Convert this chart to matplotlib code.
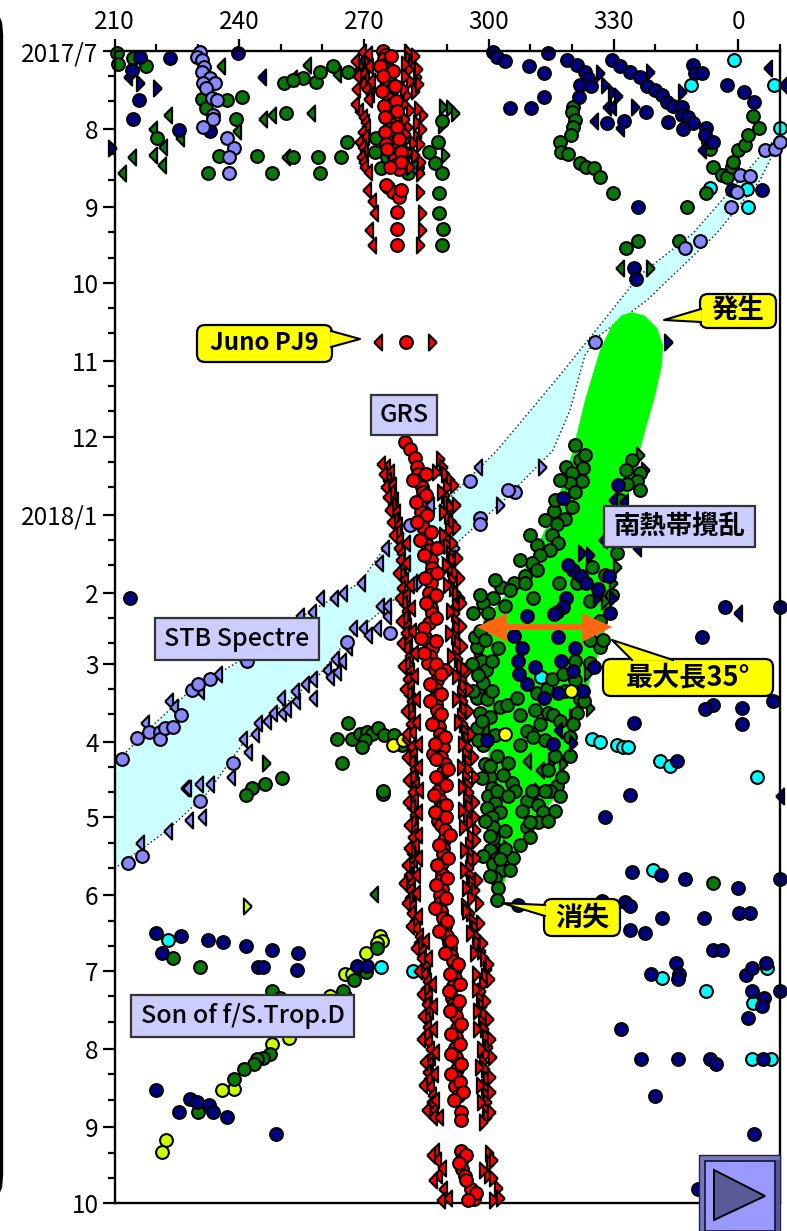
import matplotlib
matplotlib.use("Agg")
import matplotlib.pyplot as plt
from matplotlib.patches import FancyBboxPatch, Polygon, Rectangle

plt.rcParams["font.family"] = ["Noto Sans CJK JP", "DejaVu Sans"]

# ==========================================
# Data: (longitude, days since 2017/7/1)
# longitudes past 360 wrap round to 0-10
# ==========================================

month_days = [0, 31, 62, 92, 123, 153, 184, 215, 243, 274, 304, 335, 365, 396, 427, 457]
month_labels = ["2017/7", "8", "9", "10", "11", "12", "2018/1", "2", "3", "4", "5", "6", "7", "8", "9", "10"]
lon_ticks = [210, 240, 270, 300, 330, 360]
lon_labels = ["210", "240", "270", "300", "330", "0"]

spectre_upper = [(370, 32.6), (359.2, 53.2), (349.1, 72.3), (336.3, 88.9), (326.7, 108.8), (317.1, 128.6),
                 (302, 158.4), (290.7, 177), (274.5, 198), (269, 211), (254.6, 224.7), (240.2, 241.8),
                 (228.2, 253.7), (219.7, 266.8), (210, 282.7)]
spectre_lower = [(210, 324.3), (222.6, 309.3), (232.2, 294.6), (240.9, 274.7), (248.1, 262.8), (258.7, 248.5),
                 (265.9, 233.8), (277, 218), (293.1, 194), (304.4, 177), (315.4, 158.4), (319.5, 142.5),
                 (323.1, 120.7), (326.7, 112.7), (338, 98.9), (354.8, 72.3), (365.2, 51.2), (370, 35.3)]

storm_outline = [(334.5, 103.6), (337.5, 105), (340.5, 110), (341.9, 116.7), (341.6, 124.7), (340, 136.6),
                 (337.6, 150.5), (335.1, 166.3), (332.7, 182.2), (330.8, 202), (329, 222), (327.4, 233.8),
                 (324.3, 249.7), (321.9, 263.6), (318.3, 285.4), (315.4, 297.3), (307.5, 315), (303.9, 329),
                 (302.7, 337), (301.5, 329), (300.3, 297), (299.6, 265.6), (298.3, 237.8), (298.6, 226),
                 (303.9, 216), (310, 202), (315.8, 182), (320.2, 158.4), (323.1, 138.6), (326.7, 118.7),
                 (329.6, 108.8), (332, 104.8)]

grs_center = [(274.6, 0), (275, 1.5), (274.8, 3), (275.3, 5), (275, 7), (275.6, 9), (276, 11), (276.4, 13),
              (275.2, 14), (276.8, 15), (275.5, 17), (276, 19), (276.5, 21), (275.8, 23), (276.5, 25),
              (276.9, 27), (276.3, 29), (276.5, 31), (277, 33), (276.8, 36), (277.5, 38), (277, 41),
              (277.5, 43), (277.8, 45), (278.5, 47), (275.8, 54), (277, 56), (278.5, 58), (278, 63.9),
              (278, 70.6), (278, 77), (280, 115.5),
              (279.9, 155), (281, 158), (282.2, 161.6), (282.8, 165), (283, 168), (283.4, 170), (284, 173),
              (284.2, 175), (283.6, 178), (283.4, 180), (283.8, 183), (283.9, 186), (284.2, 189), (284.6, 193),
              (285.2, 196), (285.8, 198), (286, 202), (286.3, 205), (285.8, 208), (286, 211), (285.6, 215),
              (285.8, 218), (286.2, 221), (286.3, 223), (285.6, 227), (284.6, 232.6), (285.6, 235), (286.3, 237),
              (285.8, 240), (285.4, 242.6), (289.5, 245.7), (287, 245), (287.5, 249.7), (287.2, 253), (287, 256.5),
              (287.2, 259), (287.5, 261.6), (287.8, 265), (288, 268), (288.2, 270.8), (288.6, 273.5), (289, 276.3),
              (286.6, 278.7), (288.6, 280), (289.5, 282.7), (289, 286), (288.4, 290), (287.8, 293.4), (288.2, 297),
              (288.7, 300), (288.2, 303), (287.8, 305.3), (288.6, 307), (289.5, 309), (289.2, 313), (289, 316),
              (289, 318.4), (288.8, 322), (288.7, 326.3), (288.6, 329), (288.7, 332.3), (288.2, 335), (288.2, 338),
              (288.6, 341), (289, 343.8), (289.4, 347), (289.9, 351), (290.4, 354), (290.7, 356), (291, 358.5),
              (291.4, 360.9), (291.8, 364), (291.9, 367.6), (291.4, 371), (291.1, 375.6), (291.6, 378), (291.9, 379.5),
              (292, 383), (292.3, 387.5), (292, 391), (291.9, 395.4), (292, 399), (292.3, 403.8), (292, 407),
              (291.9, 410.5), (292.6, 414.5), (293.3, 421), (293.3, 424), (293.3, 436.3), (293.6, 439.5),
              (293.5, 443.4), (294.3, 446.2), (295.7, 451.4), (296.4, 455.4)]

# second pass of red spots: the tracks wander several degrees across
grs_center_b = [(276.5, 2), (273.8, 6), (277, 8), (274.5, 10), (277.5, 14), (274.4, 16), (277.6, 20), (274.8, 22), (278, 24),
                (275, 26), (278, 30), (275, 32), (278.4, 35), (275.2, 37), (279, 40), (275.4, 39), (279, 44), (276.3, 46),
                (275.2, 53), (279, 55),
                (284.8, 168), (281.8, 170), (285, 176), (282.6, 179), (285.2, 184), (282.8, 187), (286, 191), (283.4, 194),
                (287.5, 197), (284.4, 200), (287.6, 207), (284.6, 209), (287.4, 216), (284.8, 219), (287.4, 225), (284.4, 229),
                (283.6, 233), (287.2, 234), (284.5, 239), (287.4, 243), (288.6, 247), (285.8, 251), (288.6, 255), (285.8, 258),
                (288.6, 263), (286.4, 267), (289.4, 272), (287, 275), (287.2, 281), (290.3, 285), (287.4, 288), (289.8, 291),
                (286.8, 295), (289.6, 299), (287, 302), (289.6, 304), (290.6, 311), (288, 315), (290.2, 320), (287.6, 323),
                (290, 328), (287.4, 331), (289.8, 336), (287, 340), (290, 345), (288, 349), (291, 353), (289.4, 358),
                (292.6, 362), (290.6, 366), (293, 370), (290.4, 373), (292.8, 377), (290.6, 381), (293.2, 386), (291, 390),
                (293, 394), (291, 398), (293.2, 402), (291, 406), (293, 409), (293.8, 413), (291.6, 416),
                (294.5, 438), (292.8, 441), (294.6, 448), (296.8, 453), (295, 456)]

grs_left = [(269.5, 0.5), (270, 3), (269.2, 5), (268.8, 7), (269.8, 9), (270.2, 11), (269.5, 13), (270.4, 15),
            (271.5, 17), (271, 19), (268.8, 24), (269.8, 26), (270.3, 28), (270.5, 30), (269.5, 32), (270.3, 34),
            (268.8, 36), (269.5, 38), (270, 40), (269.3, 42), (269.7, 44), (270, 46), (271, 48), (270.7, 55),
            (271.8, 59.5), (272.5, 64.3), (271.3, 71), (271.8, 77), (273.3, 115.5),
            (275.2, 165), (276.2, 167), (275.6, 170), (276.8, 172), (276.4, 175), (277.2, 178), (276.8, 180),
            (277.6, 183), (277.2, 186), (278.2, 188), (277.8, 191), (278.5, 194), (278.2, 197), (279, 199),
            (278.6, 202), (279.2, 205), (279, 208), (279.6, 210), (279, 213), (280, 216), (279.4, 219), (280, 222),
            (279.6, 225), (280.4, 228), (279.8, 231), (280.6, 234), (280, 237), (280.8, 240), (280.2, 243), (281, 246),
            (280.4, 249), (281, 252), (280.6, 255), (281.2, 258), (280.8, 261), (281.4, 264), (281, 267), (281.6, 270),
            (280.2, 273), (281.4, 276), (281.8, 279), (281.2, 282), (282, 285), (281.6, 288), (282.2, 291), (281.6, 294),
            (282, 297), (281.4, 300), (282, 303), (281.5, 306), (282, 309), (281.6, 312), (282.2, 315), (281.4, 318),
            (281.8, 321), (281, 324), (280.6, 327), (281.4, 330), (281, 333), (280.8, 336), (281.6, 339), (281.2, 342),
            (282, 345), (282.4, 348), (283.2, 351), (283, 354), (284, 357), (283.8, 360), (284.8, 363), (284.4, 366),
            (285.2, 369), (284.6, 372), (285.4, 375), (285, 378), (285.6, 381), (285, 384), (285.2, 387), (284.8, 390),
            (285.4, 393), (285.8, 396), (286, 399), (285.6, 402), (285.2, 405), (285.4, 408), (285.8, 411), (286.4, 414),
            (286.2, 417), (286.8, 420), (286.6, 423), (287.1, 436.4), (287.6, 440), (287.8, 446), (289, 451.4), (290.2, 455)]

grs_left_b = [(271, 1), (267.8, 4), (271.2, 6), (268.2, 10), (271.6, 12), (268, 15), (267.8, 21),
              (274, 164), (274.6, 168), (275, 173), (275.5, 177), (276, 182), (276.5, 187), (277, 192), (280, 195), (280.2, 203),
              (278, 207), (281, 212), (278.4, 217), (281.4, 221), (278.6, 226), (281.6, 230), (279, 235), (282, 239), (279.2, 244),
              (282, 248), (279.6, 253), (282.4, 257), (279.8, 262), (282.6, 266), (280, 271), (283, 275), (280, 280), (283, 284),
              (280.4, 289), (283.2, 293), (280.4, 298), (283, 302), (280.6, 307), (283, 311), (280.6, 316), (283, 320), (280, 323),
              (282.4, 327), (279.4, 330), (282.6, 334), (280, 338), (283, 343), (281, 347), (284.6, 353), (282.2, 356), (285.4, 360),
              (283, 365), (286.4, 370), (283.6, 374), (286.6, 379), (284, 383), (286.6, 388), (283.8, 392), (287, 397), (284.4, 401),
              (286.8, 406), (284.2, 410), (287, 416), (285, 420), (288, 423), (286, 438), (288.8, 443), (286.6, 448), (288.4, 456)]

grs_right = [(280.5, 0.5), (280.8, 3), (281.5, 5.5), (280.8, 7), (282.7, 10.3), (281, 12), (282.2, 16), (280.4, 17.5),
             (281, 23.5), (284.2, 25.4), (282.7, 28.6), (280.6, 30), (282.7, 34), (281.8, 36.6), (282.2, 41.3),
             (283.4, 48.4), (283.4, 56), (283.9, 64.3), (283.9, 71), (283.4, 77), (286.3, 115.5),
             (288.3, 162), (289, 165), (289.5, 168), (290.7, 170), (290, 173), (289.5, 176), (290, 179), (290.7, 181),
             (290.2, 184), (291.1, 187), (290.5, 190), (290, 193), (289.9, 196), (290.6, 199), (291.2, 202), (290.8, 205),
             (291.9, 207), (291.2, 210), (291.4, 213), (292.2, 215), (293, 217), (292, 220), (291.9, 223), (292.2, 226),
             (292.3, 229), (291.8, 232), (292.6, 235), (292.2, 238), (292.6, 241), (293, 244), (294.7, 246), (293.6, 249),
             (293.8, 252), (293.2, 255), (293.8, 258), (294, 261), (293.4, 264), (293.8, 267), (294.2, 270), (294.7, 273),
             (295, 276), (294.6, 279), (295, 282), (295, 285), (294.6, 288), (295, 291), (295.2, 294), (294.7, 297),
             (295.2, 300), (294.7, 303), (295.5, 306), (297, 309), (295.6, 312), (295.2, 315), (295.5, 318), (295.8, 321),
             (295.3, 324), (295.5, 327), (296, 330), (296.7, 333), (295.6, 336), (294.3, 339), (295.5, 342), (296.3, 345),
             (296.7, 348), (297, 351), (297.2, 354), (298, 357), (298.8, 360), (299.5, 364), (299, 367), (298.5, 370),
             (298, 373), (297.9, 376), (298.4, 379), (298.8, 382), (298.4, 385), (298.8, 388), (299.2, 391), (299.8, 395),
             (299.4, 398), (298.6, 401), (299, 404), (299.5, 408), (299, 411), (299.2, 414), (299.5, 417), (299.4, 420),
             (299.5, 423), (300, 437), (300.3, 441), (299.8, 446), (302.2, 451), (302.7, 455)]

grs_right_b = [(282.3, 2), (279.8, 5), (283, 7), (279.8, 10), (283.2, 13), (279.6, 15), (279.5, 21), (283, 23), (279.8, 27), (284, 31),
               (280, 33), (283.4, 37), (280.6, 40), (283.6, 44), (281, 46),
               (287.4, 167), (291.6, 172), (288.4, 175), (292, 180), (288.9, 183), (292.2, 189), (289, 192), (291.4, 195), (292.6, 201),
               (289.6, 204), (293, 209), (290, 212), (293.6, 219), (290.6, 222), (293.6, 228), (290.4, 231), (293.8, 236), (291, 240),
               (294, 245), (292, 248), (295.2, 253), (292.2, 257), (295.2, 262), (292.6, 266), (295.6, 271), (293.6, 275), (296.4, 280),
               (293.4, 284), (296.6, 288), (293.6, 292), (296.6, 298), (293.6, 301), (296.6, 304), (293.8, 308), (296.8, 313), (294, 317),
               (296.8, 320), (294, 325), (297.4, 329), (294.4, 332), (297.6, 338), (294.6, 341), (297.8, 346), (295.4, 350), (298.6, 354),
               (296.4, 358), (300, 362), (297, 366), (300.2, 368), (297, 372), (299.4, 377), (297.2, 381), (300, 384), (297.2, 388),
               (300.6, 392), (298, 396), (300.8, 399), (297.6, 403), (300.4, 407), (297.8, 410), (300.6, 413), (298, 417), (300.6, 421),
               (298.6, 425), (301, 440), (298.6, 444), (301, 447), (301, 456)]

green_circles = [(320.2, 22.2), (320, 24.2), (320.7, 27.4), (320.2, 30.2), (319.8, 33.3), (317.1, 36), (317.4, 40), (319, 40.9),
                 (321.9, 44.5), (323.3, 46), (325.3, 46.4), (326.7, 50), (329.8, 56.4), (335.8, 75.4), (332.9, 78.2),
                 (345.7, 75.4), (347.6, 62), (352.2, 56.4), (353.2, 38.9), (352.7, 36), (353.9, 46), (356, 49.2), (357.3, 50),
                 (358.4, 46), (358.7, 44), (359.9, 39.3), (361.5, 37.3), (362.3, 33.3), (364.9, 30.6), (363.5, 25.8),
                 (210.6, 0.8), (214.4, 2.8), (210.8, 5.2), (217.6, 6), (231, 19), (232, 22.6), (237, 19.5), (240.7, 18.3),
                 (239.2, 27), (220.2, 34.5), (235.1, 41.7), (244.3, 41.7), (252.9, 42), (258.9, 42), (264.5, 42), (265.9, 36),
                 (232.5, 48.4), (247.9, 48.4), (259.4, 48.4), (251.2, 24.6), (250.7, 12.7), (255.3, 10.7), (258.4, 12.3),
                 (259.4, 8.3), (262.5, 6), (266.1, 8.3), (252.9, 11.5), (272.9, 34.5), (272.6, 40), (274, 46.4), (277.2, 38),
                 (275.5, 42), (288, 56.4), (288, 64.3), (289, 70.7), (288.7, 77), (288.7, 48.4), (287, 44.5), (285.6, 40),
                 (287.8, 36), (288.7, 27.8), (279.4, 34.5), (279.4, 42), (280.6, 48.4), (282.7, 46),
                 (266.1, 266.4), (263.5, 273), (267.1, 273), (269, 270.8), (270.7, 270), (271.9, 270.8), (273.3, 268.4),
                 (274.8, 271.2), (277.2, 271.2), (270.2, 273.5), (269.5, 276.3), (279.1, 275.5), (264.7, 282.3), (274.5, 294.6),
                 (274.5, 293.4), (250.3, 288.6), (246.2, 290.6), (243.1, 292.2), (241.6, 295), (353.9, 330),
                 (224.1, 360), (230.6, 363.3), (247.9, 372.8), (249.8, 375.6), (264.9, 372.8), (267.6, 368.4), (270.5, 365.2),
                 (273.1, 356), (247.4, 397.8), (245.7, 399.4), (244.3, 399.8), (243.5, 402), (241.1, 404), (238.7, 407.7),
                 (230.1, 421)]

storm_circles = [(321.9, 162.4), (318.5, 165), (322.6, 165.5), (320, 167.5), (322.4, 170.7), (319.5, 171.5), (320.7, 175),
                 (320, 181), (315.7, 182.6), (318.3, 185.8), (316.4, 187.8), (315.2, 192), (316.6, 195), (311.6, 196),
                 (314.7, 198), (312.3, 200), (310.4, 203), (311.6, 206), (308.7, 208.4), (306, 211), (308.7, 211), (303, 212.8),
                 (301, 217), (298.6, 219), (303.9, 220), (296.2, 223), (299.8, 223), (310.6, 216.8), (316.9, 211), (334.4, 162.4),
                 (336.3, 167.5), (335.6, 170.7), (333.2, 171.9), (330.8, 199.3), (324.8, 204.8), (321.2, 211), (326.7, 236.6),
                 (327.4, 233.8), (297.1, 236.6), (296.7, 232.6), (298.3, 241.8), (296, 243), (299.3, 245.7), (298.6, 250.9),
                 (297.1, 256.5), (299.5, 256.9), (297.9, 262.8), (300.3, 264.4), (297.1, 268.4), (302.2, 237), (302.7, 260.4),
                 (304.4, 259.6), (306.8, 256.5), (311.6, 254.5), (314, 252.9), (315.2, 249), (317.8, 247.3), (321.9, 256.9),
                 (324.3, 242.6), (321.2, 262.8), (314.2, 262.8), (312.3, 266.8), (309.2, 269.6), (320.2, 266.8), (319.5, 272.3),
                 (298.6, 275.5), (307.5, 275.5), (310.6, 272.3), (299, 282.7), (304.6, 282.3), (300.3, 288.2), (305.6, 290.2),
                 (300.8, 292.2), (306.3, 293.4), (309.2, 297.4), (299.8, 295.4), (301.5, 298.5), (311.8, 299.3), (299.5, 300.5),
                 (302.7, 302), (313, 302), (300.8, 304), (311.8, 306), (309.2, 308), (301, 308), (303.9, 309.3), (301, 312.4),
                 (309.9, 312), (307.5, 315), (300.3, 317), (302, 320), (305.8, 320), (301, 322.4), (303.1, 325), (301.5, 328),
                 (302.2, 332), (302, 336.8), (316.4, 291.4), (317.6, 288.2), (314.7, 293.4)]

storm_circles_b = [(297.9, 229.9), (300.3, 227.9), (299.1, 233.8), (297.4, 247.7), (300.8, 241.8), (296.2, 253.7), (300.8, 253.7),
                   (298.4, 265.6), (301.5, 271.5), (297.3, 273.5), (302, 279.5), (300.3, 283.5), (303.4, 287.4), (298.4, 288.6),
                   (302, 293.4), (304.6, 295.4), (307.9, 301.3), (309.9, 306), (299.1, 305.3), (300.3, 311.3), (303.9, 316.4),
                   (298.6, 319.2), (305, 325), (300.3, 327.1), (302.7, 320.4), (307.5, 263.6), (311, 261.6), (315.4, 263.6),
                   (317.1, 265.6), (313.5, 273.5), (315.9, 279.5), (319.5, 279.5), (314.2, 285.4), (313.5, 293.4), (310.4, 293.4),
                   (317.1, 295.4), (315.9, 301.3), (314.2, 305.3), (320.7, 156.4), (323.1, 160.4), (317.1, 170.3), (315.9, 178.3),
                   (313.5, 186.2), (310, 192), (307.5, 202), (301.5, 210), (297.9, 216), (305, 214), (333, 166.3), (336.3, 174.3),
                   (331.5, 178.3), (329.6, 194), (327.9, 208), (329.6, 216), (324.3, 218), (326.7, 226), (324.3, 233.8), (320.7, 241.8),
                   (318.4, 253.7), (320.7, 249.7), (322.9, 257.7)]

green_left = [(235.6, 6), (222.9, 25.4), (214.2, 42), (219.3, 41.3), (219.3, 31), (221.7, 38), (221.4, 45.3), (211.8, 48.4),
              (225.7, 34.5), (239.5, 31.8), (245.7, 27), (247.9, 25.4), (257.2, 24.6), (251.2, 42), (256.3, 5.6), (252.9, 10.7),
              (263.5, 9.1), (331.5, 86.1), (272.4, 334.3), (297.4, 239.8), (297.9, 253.7), (299, 269.6), (299.6, 285.4),
              (301.5, 313.2), (302, 321), (312.3, 285.4), (309.2, 281.5)]
green_right = [(289, 22.2), (290.7, 22.6), (291.9, 24.6), (288.7, 29.4), (289.4, 41.3), (338.7, 86), (246.4, 282.3),
               (330.8, 204.8), (329.9, 211), (327.9, 218), (323.8, 246.9), (324.3, 260.8), (320.2, 264.4), (315.2, 281.5),
               (317.9, 282.7), (311.8, 293.4), (304.4, 316), (336.3, 160.4), (337.5, 166.3), (331.5, 186)]

navy_circles = [(301, 0.4), (302, 2.4), (303.9, 4), (309.7, 6), (314.2, 0.8), (313.3, 8.7), (313.3, 18.3), (305, 22.6), (310.1, 22.6),
                (318.8, 3.6), (321.2, 5.6), (323.1, 8.3), (323.8, 10.7), (321.9, 13.5), (324.6, 13.9), (321.7, 18.3), (329.6, 3.6),
                (331.5, 6), (333.9, 8.3), (336.3, 10.3), (338, 13.9), (339.9, 15.5), (341.6, 17.5), (342.8, 20.2), (344.3, 21.8),
                (346.4, 22.2), (346.4, 25.4), (347.9, 26.2), (349.1, 28.6), (346.7, 31), (343, 28.2), (337.8, 24.2), (328.4, 28.6),
                (332.5, 27.8), (349.1, 5.6), (349.6, 8.7), (351.2, 8.7), (352.2, 30.6), (352, 33.3), (357.3, 13.5), (361.3, 16.3),
                (363.7, 20.2), (353.9, 36), (358.4, 55), (365.6, 55), (335.8, 62), (334.9, 86), (335.4, 90.5),
                (223.3, 2.8), (239.7, 0.8), (215.9, 19.5), (214.4, 27), (225.5, 31.4), (233, 31.8), (214.2, 7.5), (216.1, 2.4),
                (317.8, 177.5), (331, 172.3), (320.2, 206), (319, 204), (322.2, 208.4), (323.4, 211), (326.2, 213.6), (328.9, 208.4),
                (318.5, 216.8), (317.8, 220.7), (316.4, 222.7), (315.7, 223.5), (309.2, 224.3), (306, 232.2), (316.6, 232.6), (308, 237),
                (320.7, 237), (307, 242), (311, 244.5), (317.3, 242), (320.2, 246), (325.2, 244.5), (307.2, 247.3), (309.2, 251),
                (313.2, 256.5), (316.6, 254.5), (322.6, 254), (329.1, 223), (299.5, 273.5), (315.4, 275),
                (356.8, 220.7), (351.2, 232.6), (370, 220.7), (353.9, 259.6), (352, 261.2), (360.9, 260.8), (360.9, 266.8), (334.9, 266.4),
                (368.3, 257.7), (345.2, 281.5), (334, 295), (327.9, 303.7), (334.4, 325.5), (341.4, 327), (347.2, 328.3), (360, 332),
                (370, 328.3), (332.7, 337.5), (334, 339), (327.2, 337), (307, 338.6), (341.6, 344), (334, 348.6), (337.5, 349.8),
                (351.7, 344), (360.1, 341.8), (362.8, 341.8), (353.9, 356.5), (356, 356.5), (345, 361.7), (339, 366), (345.7, 366),
                (345.5, 368), (361.8, 366.4), (363.3, 363.6), (366.6, 361.7), (363.3, 372.8), (366.2, 375.6), (365.7, 378.7), (370, 372.8),
                (362.3, 383.5), (331.8, 388), (336.6, 400), (345.5, 400), (353.2, 400), (354.6, 402), (366, 400), (340, 414.5),
                (363.7, 429.6), (350.3, 451.4),
                (220, 349.8), (226, 351), (232.5, 352.5), (236.1, 353.3), (241.6, 354.9), (247.9, 356.5), (254.1, 358), (221.4, 357.7),
                (244.5, 363.3), (245.7, 363.3), (253.9, 364.4), (220, 412), (228.2, 415.7), (229.8, 417), (232.7, 418), (233.7, 421),
                (225.5, 421), (237, 422.8), (248.8, 429.6), (268.3, 362.9), (270.7, 362.9), (213.7, 217)]
navy_left = [(245.5, 10.3), (328.4, 22.2), (329.6, 22.2), (325.3, 27.8), (331.5, 30.6), (367.1, 6.7), (370.7, 13.5), (351.2, 39.3),
             (360, 223), (370, 295.5), (329.8, 178), (332.5, 179), (327.4, 194), (335.6, 197), (316.6, 269.5), (213.2, 10.3)]
navy_right = [(216.1, 12.7), (220.2, 14.7), (209.5, 38.5), (214.7, 8.3), (326.8, 8.7), (328, 13.5), (329.6, 16.3), (331.1, 17.9),
              (335.1, 22.2), (338.7, 8.3), (346.4, 16.3), (343.1, 115.5), (322.5, 199.3), (324.3, 200), (329.9, 216.8), (326, 217),
              (320.2, 274.5)]

peri_circles = [(230.6, 0.4), (229.8, 2.4), (231, 3.6), (231.5, 6.4), (231, 8.3), (233, 10.7), (231.3, 12.7), (234.2, 12.7), (232, 14.7),
                (233.4, 18.7), (234.6, 19.5), (233.7, 25.4), (233.7, 27), (231.3, 30.2), (237, 34.5), (238.7, 38.5), (237.5, 42), (237.5, 48.4),
                (366.4, 39.3), (368.8, 39), (370, 36), (360.4, 49), (362.8, 49.6), (359.6, 56), (358.2, 62), (350.8, 75.4), (347.2, 78),
                (325.5, 115.5), (295.5, 170.7), (306.3, 175), (304.6, 174.3), (297.9, 185.4), (297.9, 187.8), (281, 188),
                (211.8, 280.7), (215.4, 272.4), (218.3, 270.3), (220.9, 270), (220.9, 273), (222.1, 268.4), (224, 268), (226, 263.6),
                (228.6, 253.6), (230.1, 251), (233, 249), (241.9, 241.8), (238.5, 282.3), (230.6, 297.4), (216.6, 319.2), (213.2, 322),
                (276.2, 231), (265.9, 234.6)]
peri_left = [(217.3, 266.4), (223.1, 257.7), (224.3, 260.4), (230.6, 254), (234.9, 247.3), (254.6, 224), (257.5, 222.7), (259.4, 217),
             (262.8, 216.8), (264.9, 215), (269.3, 211), (273.6, 203), (275, 197.3), (226.9, 292.2), (227.4, 292.2), (230.3, 290.6),
             (233, 290.6), (227.9, 305), (231, 304), (222.9, 309.3), (216.1, 314), (238, 288.2), (242.1, 278), (240.9, 273), (243.8, 270.8),
             (244.5, 266.4), (246.7, 265.6), (248.1, 262.8), (250.3, 262.8), (251.5, 261.2), (253.6, 258), (250, 256.5), (253.4, 254),
             (255.8, 251), (257.7, 249), (257.7, 256.5), (261.1, 245.7), (261.8, 248.5), (263.5, 246.5), (264.7, 241.8), (263, 241),
             (266.1, 236.6), (267.3, 229), (269.7, 229), (273.1, 229), (271, 231.8), (275.5, 224), (273.8, 220), (275.5, 220),
             (297.4, 165), (285.9, 180), (281.7, 211)]
peri_right = [(312.8, 165), (302.7, 180), (291.9, 197.3), (289.7, 204.5), (283.4, 210.8)]

cyan_circles = [(358.9, 3.6), (348.6, 13.5), (368.6, 13.5), (370, 30.6), (353.2, 54.4), (362, 54.8), (362.3, 62),
                (312.5, 248.5), (324.8, 273), (326.7, 274.3), (330.8, 275.5), (332.2, 276), (333.4, 276), (341.2, 281.5), (343.6, 283.5),
                (364.5, 288), (339.5, 325), (366.9, 363.6), (341.6, 367.6), (352.2, 373), (363.5, 377.5), (363.3, 400), (367.8, 400),
                (281.8, 364.8), (222.9, 352.5), (274.1, 363.3)]
yellow_circles = [(319.7, 253.7), (303.9, 270.8), (277, 275.5), (279.4, 273.5)]
lime_circles = [(273.8, 351), (274.3, 353), (273.1, 354), (270.5, 357.7), (265.4, 366), (267.1, 366), (247.9, 393.8), (238.7, 411.7),
                (235.8, 412), (222.4, 432), (221.4, 436.7), (252, 391.4), (261.8, 374.8), (265.4, 374.8)]
lime_right = [(241.9, 339)]

# ==========================================
# Figure and axes
# ==========================================

fig = plt.figure(figsize=(7.87, 12.31), dpi=100)
ax = fig.add_axes([114.5 / 787, 1 - 1203 / 1231, (780 - 114.5) / 787, (1203 - 51) / 1231])
ax.set_xlim(210, 370)
ax.set_ylim(457, 0)

ax.xaxis.tick_top()
ax.set_xticks(lon_ticks)
ax.set_xticklabels(lon_labels)
ax.set_xticks([x for x in range(210, 371, 10) if x not in lon_ticks], minor=True)
ax.set_yticks(month_days)
ax.set_yticklabels(month_labels)
ax.set_yticks([d + k for d in month_days[:-1] for k in (10, 20)], minor=True)
ax.tick_params(axis="both", which="major", length=8.5, width=1.6, labelsize=17.5, pad=3)
ax.tick_params(axis="both", which="minor", length=5, width=1.6)
for side in ax.spines:
    ax.spines[side].set_linewidth(1.7)

ax.add_patch(Polygon(spectre_upper + spectre_lower, closed=True, facecolor="#ccffff", edgecolor="none", zorder=1))
for edge in (spectre_upper, spectre_lower):
    ax.plot(*zip(*edge), linestyle=":", color="#333333", linewidth=1.1, zorder=1.2)
ax.add_patch(Polygon(storm_outline, closed=True, facecolor="#00ff00", edgecolor="none", zorder=1.4))

# triangles with a flat back, taller than they are wide
left_tri = [(-0.55, 0), (0.45, 1), (0.45, -1), (-0.55, 0)]
right_tri = [(0.55, 0), (-0.45, 1), (-0.45, -1), (0.55, 0)]


def draw(points, marker, color, zorder):
    size = 9.2 if marker == "o" else 11.5
    ax.plot(*zip(*points), linestyle="none", marker=marker, markersize=size, markerfacecolor=color,
            markeredgecolor="black", markeredgewidth=1.5, clip_on=False, zorder=zorder)


GREEN = "#087808"
NAVY = "#000080"
PERI = "#8888ff"
CYAN = "#00ffff"
YELLOW = "#ffff00"
LIME = "#ccff00"
RED = "#ff0000"

draw(cyan_circles, "o", CYAN, 2)
draw(green_left, left_tri, GREEN, 2.2)
draw(green_right, right_tri, GREEN, 2.2)
draw(green_circles, "o", GREEN, 2.3)
draw(storm_circles + storm_circles_b, "o", GREEN, 2.3)
draw(navy_left, left_tri, NAVY, 2.4)
draw(navy_right, right_tri, NAVY, 2.4)
draw(navy_circles, "o", NAVY, 2.5)
draw(lime_circles, "o", LIME, 2.25)
draw(lime_right, right_tri, LIME, 2.25)
draw(yellow_circles, "o", YELLOW, 2.6)
draw(peri_left, left_tri, PERI, 2.7)
draw(peri_right, right_tri, PERI, 2.7)
draw(peri_circles, "o", PERI, 2.8)
draw(grs_left + grs_left_b, left_tri, RED, 3)
draw(grs_right + grs_right_b, right_tri, RED, 3)
draw(grs_center + grs_center_b, "o", RED, 3.1)

# ==========================================
# Overlay for labels, in image pixels
# ==========================================

over = fig.add_axes([0, 0, 1, 1])
over.set_xlim(0, 787)
over.set_ylim(1231, 0)
over.axis("off")
over.patch.set_alpha(0)


def label_box(x0, y0, x1, y1, text, size, weight="medium"):
    over.add_patch(Rectangle((x0, y0), x1 - x0, y1 - y0, facecolor="#ccccff", edgecolor="#333333", linewidth=1.6))
    over.text((x0 + x1) / 2, (y0 + y1) / 2, text, fontsize=size, fontweight=weight, ha="center", va="center", color="black")


def callout(x0, y0, x1, y1, tail, text, size):
    over.add_patch(FancyBboxPatch((x0, y0), x1 - x0, y1 - y0, boxstyle="round,pad=0,rounding_size=8",
                                  facecolor=YELLOW, edgecolor="black", linewidth=1.6))
    over.add_patch(Polygon(tail, closed=True, facecolor=YELLOW, edgecolor="none"))
    over.plot([tail[0][0], tail[1][0], tail[2][0]], [tail[0][1], tail[1][1], tail[2][1]], color="black", linewidth=1.5)
    over.text((x0 + x1) / 2, (y0 + y1) / 2, text, fontsize=size, fontweight="bold", ha="center", va="center", color="black")


label_box(371, 395, 437, 435, "GRS", 18)
label_box(155, 618, 319, 660, "STB Spectre", 18)
label_box(604, 506, 755, 547, "南熱帯攪乱", 19, weight="bold")
label_box(131, 995, 354, 1037, "Son of f/S.Trop.D", 18)

callout(700, 294, 776, 328, [(701, 309), (664, 320), (701, 322)], "発生", 19)
callout(197, 325, 332, 362, [(331, 331), (360, 339), (331, 347)], "Juno PJ9", 17.3)
callout(603, 659, 773, 696, [(632, 660), (612, 640), (673, 660)], "最大長35°", 19.5)
callout(544, 899, 620, 936, [(545, 905), (502, 903), (545, 916)], "消失", 19.5)

# orange double arrow across the disturbance
over.add_patch(Polygon([(477, 627), (507, 613), (507, 624), (582, 624), (582, 613), (612, 627),
                        (582, 642), (582, 630), (507, 630), (507, 642)], closed=True,
                       facecolor="#ff6611", edgecolor="none", zorder=5))

# play button
over.add_patch(Rectangle((699, 1155), 81, 76, facecolor="#7777bb", edgecolor="#222244", linewidth=1, zorder=5))
over.add_patch(Rectangle((775, 1160), 5, 71, facecolor="#555599", edgecolor="none", zorder=5))
over.add_patch(Rectangle((705, 1161), 70, 70, facecolor="#9999ff", edgecolor="#111133", linewidth=1.2, zorder=5))
over.add_patch(Polygon([(714, 1170), (714, 1220), (765, 1196)], closed=True, facecolor="#5a5a99",
                       edgecolor="black", linewidth=1.4, zorder=6))

# edge of the window behind the chart
over.plot([-6, -2, 0.5, 1.5, 1.5, 0.5, -2, -6], [14, 17, 23, 35, 1175, 1187, 1193, 1196], color="black", linewidth=2.4)

plt.savefig("out.png", dpi=100)
